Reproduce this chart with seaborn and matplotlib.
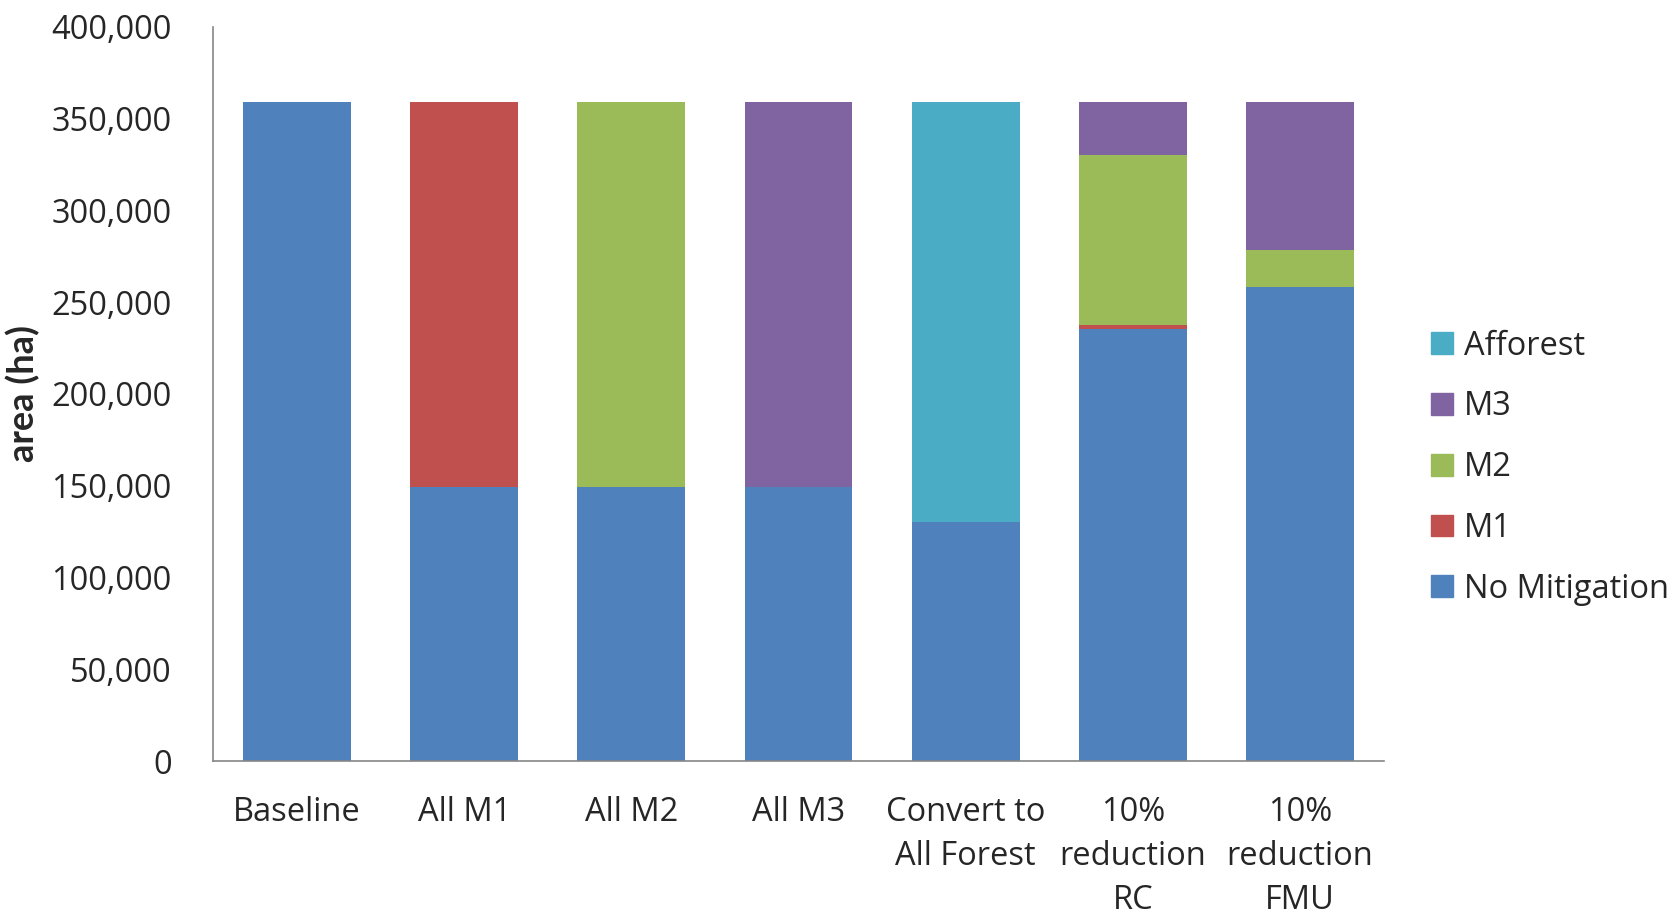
import matplotlib
matplotlib.use("Agg")
import matplotlib.pyplot as plt
import matplotlib.patches as mpatches
import seaborn as sns
import pandas as pd
import numpy as np

categories = ["Baseline", "All M1", "All M2", "All M3", "Convert to\nAll Forest",
              "10%\nreduction\nRC", "10%\nreduction\nFMU"]
no_mitigation = [359000, 149500, 149500, 149500, 130100, 235500, 258200]
m1 = [0, 209500, 0, 0, 0, 1800, 0]
m2 = [0, 0, 209500, 0, 0, 92900, 20300]
m3 = [0, 0, 0, 209500, 0, 28800, 80500]
afforest = [0, 0, 0, 0, 228900, 0, 0]
y_ticks = [0, 50000, 100000, 150000, 200000, 250000, 300000, 350000, 400000]

series = [("No Mitigation", no_mitigation, "#4F81BD"),
          ("M1", m1, "#C0504D"),
          ("M2", m2, "#9BBB59"),
          ("M3", m3, "#8064A2"),
          ("Afforest", afforest, "#4BACC6")]

sns.set_style("white")
plt.rcParams['font.family'] = ['Open Sans', 'DejaVu Sans']

fig = plt.figure(figsize=(16.73, 9.17), dpi=100)
ax = fig.add_axes([0.1276, 0.170, 0.6994, 0.801])

# cumulative totals, draw from top layer down so lower layers overpaint
cum = np.zeros(len(categories))
cums = []
for name, vals, color in series:
    cum = cum + np.array(vals, dtype=float)
    cums.append((name, cum.copy(), color))

for name, c, color in reversed(cums):
    df = pd.DataFrame({"cat": categories, "val": c})
    sns.barplot(data=df, x="cat", y="val", color=color, width=0.645,
                saturation=1, ax=ax, order=categories, linewidth=0)

ax.set_xlim(-0.5, 6.5)
ax.set_ylim(0, 400000)
ax.set_yticks(y_ticks)
ax.set_yticklabels([f"{v:,}" for v in y_ticks], fontsize=23.5)
ax.set_xticks(range(len(categories)))
ax.set_xticklabels(categories, fontsize=23.5, linespacing=1.45)
ax.tick_params(axis="both", length=0)
ax.tick_params(axis="y", pad=30)
ax.tick_params(axis="x", pad=25)
ax.set_xlabel("")
ax.set_ylabel("area (ha)", fontsize=26, fontweight="bold",
              fontfamily=["Lato", "DejaVu Sans"])
ax.yaxis.set_label_coords(-0.148, 0.5)

for s in ["top", "right"]:
    ax.spines[s].set_visible(False)
for s in ["left", "bottom"]:
    ax.spines[s].set_color("#868686")
    ax.spines[s].set_linewidth(1.2)

handles = [mpatches.Patch(color=color, label=name) for name, _, color in reversed(series)]
leg = fig.legend(handles=handles, loc="center left", bbox_to_anchor=(0.838, 0.49),
                 frameon=False, fontsize=23.5, handlelength=0.65, handleheight=0.65,
                 handletextpad=0.35, labelspacing=0.85)

fig.savefig("out.png", dpi=100)
